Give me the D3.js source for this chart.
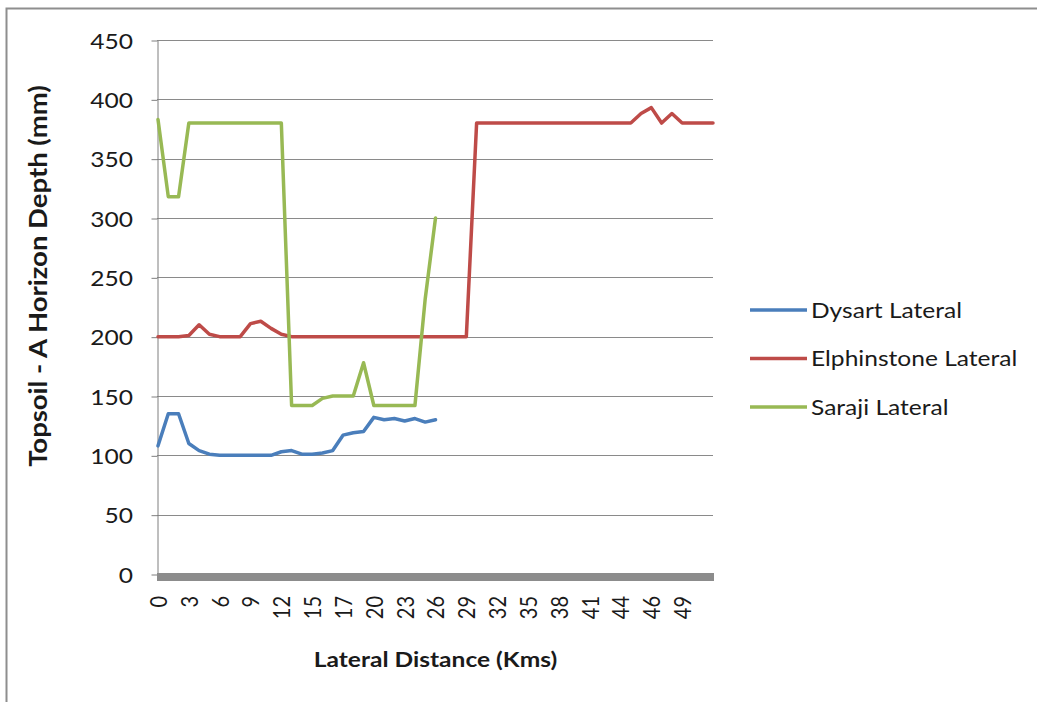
<!DOCTYPE html>
<html>
<head>
<meta charset="utf-8">
<script src="https://cdn.jsdelivr.net/npm/d3@7"></script>
<style>
  body { margin: 0; background: #fff; }
  svg { display: block; }
  text { font-family: Lato, "Open Sans", sans-serif; fill: #1a1a1a; }
</style>
</head>
<body>
<svg id="chart" width="1037" height="702"></svg>
<script>
// Lateral distance (km) of each survey point along the pipelines
const distanceKm = [
  0, 1, 2, 3, 4, 5, 6, 7, 8, 9, 10, 11, 12, 13, 14, 15,
  15.7, 16.4, 17.1, 18.1, 19.1, 20.1, 21.1, 22.1, 23.1, 24.1, 25.1, 26.1,
  27.1, 28.1, 29.1, 30.1, 31.1, 32.1, 33.1, 34.1, 35.1, 36.1, 37.1, 38.1,
  39.1, 40.1, 41.1, 42.1, 43.1, 44.1, 44.8, 45.5, 46.2, 47.2, 48.2, 49.2,
  50.2, 51.2, 52.2
];

// Topsoil A-horizon depth (mm) per survey point
const dysart = [
  108, 135, 135, 110, 104, 101, 100, 100, 100, 100, 100, 100, 103, 104,
  101, 101, 102, 104, 117, 119, 120, 132, 130, 131, 129, 131, 128, 130
];
const elphinstone = [
  200, 200, 200, 201, 210, 202, 200, 200, 200, 211, 213, 207, 202, 200,
  200, 200, 200, 200, 200, 200, 200, 200, 200, 200, 200, 200, 200, 200,
  200, 200, 200, 380, 380, 380, 380, 380, 380, 380, 380, 380, 380, 380,
  380, 380, 380, 380, 380, 388, 393, 380, 388, 380, 380, 380, 380
];
const saraji = [
  383, 318, 318, 380, 380, 380, 380, 380, 380, 380, 380, 380, 380, 142,
  142, 142, 148, 150, 150, 150, 178, 142, 142, 142, 142, 142, 232, 300
];

const seriesNames = ["Dysart Lateral", "Elphinstone Lateral", "Saraji Lateral"];
const seriesColors = ["#4A7EBB", "#BE4B48", "#98B954"];
const seriesValues = [dysart, elphinstone, saraji];

const yTicks = [0, 50, 100, 150, 200, 250, 300, 350, 400, 450];
const xLabelStep = 3;

const yTitle = "Topsoil - A Horizon Depth (mm)";
const xTitle = "Lateral Distance (Kms)";

// ---- layout ----
const plot = { left: 158, right: 713, top: 40, bottom: 574 };
const widen = 1.17; // horizontal text stretch used throughout the chart
const svg = d3.select("#chart");

// outer chart frame
svg.append("rect")
  .attr("x", 6.5).attr("y", 8.5)
  .attr("width", 1060).attr("height", 720)
  .attr("fill", "#fff")
  .attr("stroke", "#8e8e8e").attr("stroke-width", 2);

const x = d3.scalePoint()
  .domain(d3.range(distanceKm.length))
  .range([plot.left, plot.right]);

const y = d3.scaleLinear()
  .domain([0, 450])
  .range([plot.bottom, plot.top]);

// horizontal gridlines
svg.append("g")
  .selectAll("line")
  .data(yTicks.filter(v => v > 0))
  .join("line")
  .attr("x1", plot.left - 1).attr("x2", plot.right)
  .attr("y1", d => Math.round(y(d)) + 0.5).attr("y2", d => Math.round(y(d)) + 0.5)
  .attr("stroke", "#8a8a8a").attr("stroke-width", 1);

// y axis with tick labels
const yAxis = svg.append("g")
  .attr("transform", `translate(${plot.left - 0.5},0.5)`)
  .call(d3.axisLeft(y).tickValues(yTicks).tickSize(6).tickSizeOuter(0));
yAxis.select(".domain").attr("stroke", "#7f7f7f");
yAxis.selectAll(".tick line").attr("stroke", "#7f7f7f");
yAxis.selectAll(".tick text")
  .attr("font-size", 21)
  .attr("font-family", "Lato, sans-serif")
  .attr("fill", "#1a1a1a")
  .attr("x", 0)
  .attr("dy", "0.36em")
  .attr("transform", `translate(-24.5,0) scale(${widen},1)`);

// heavy category axis bar
svg.append("rect")
  .attr("x", plot.left - 1).attr("y", plot.bottom - 1)
  .attr("width", plot.right - plot.left + 2).attr("height", 8)
  .attr("fill", "#8c8c8c");

// x axis tick labels (every third point)
const xAxis = svg.append("g")
  .attr("transform", `translate(0,${plot.bottom + 22})`)
  .call(d3.axisBottom(x)
    .tickValues(d3.range(0, distanceKm.length - 2, xLabelStep))
    .tickFormat(i => d3.format(".0f")(distanceKm[i]))
    .tickSize(0));
xAxis.select(".domain").remove();
xAxis.selectAll(".tick text")
  .attr("font-size", 20)
  .attr("font-family", "Lato, sans-serif")
  .attr("fill", "#1a1a1a")
  .attr("text-anchor", "end")
  .attr("transform", `scale(${widen},1) rotate(-90)`)
  .attr("x", 0)
  .attr("y", 0)
  .attr("dy", "0.36em");

// series lines
const line = d3.line()
  .x((d, i) => x(i))
  .y(d => y(d));

svg.append("g")
  .selectAll("path")
  .data(seriesValues)
  .join("path")
  .attr("d", d => line(d))
  .attr("fill", "none")
  .attr("stroke", (d, i) => seriesColors[i])
  .attr("stroke-width", 3.5)
  .attr("stroke-linejoin", "round")
  .attr("stroke-linecap", "round");

// axis titles
svg.append("text")
  .attr("transform", "translate(47,276) scale(1,1.1) rotate(-90)")
  .attr("text-anchor", "middle")
  .attr("font-size", 25)
  .attr("font-weight", 700)
  .text(yTitle);

svg.append("text")
  .attr("transform", `translate(${(plot.left + plot.right) / 2},667) scale(${widen},1)`)
  .attr("text-anchor", "middle")
  .attr("font-size", 21)
  .attr("font-weight", 700)
  .text(xTitle);

// legend
const legend = svg.append("g")
  .selectAll("g")
  .data(seriesNames)
  .join("g")
  .attr("transform", (d, i) => `translate(750,${310 + i * 48.5})`);
legend.append("line")
  .attr("x1", 0).attr("x2", 57)
  .attr("stroke", (d, i) => seriesColors[i])
  .attr("stroke-width", 3.5);
legend.append("text")
  .attr("transform", `translate(61,0) scale(${widen},1)`)
  .attr("dy", "0.36em")
  .attr("font-size", 21)
  .text(d => d);
</script>
</body>
</html>
